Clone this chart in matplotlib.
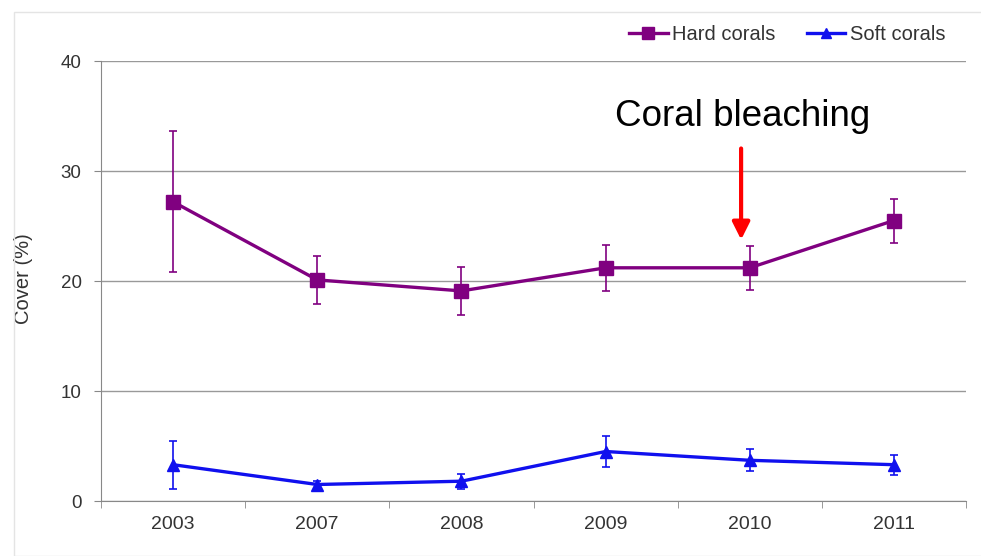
import matplotlib
matplotlib.use("Agg")
import matplotlib.pyplot as plt
from matplotlib.lines import Line2D
from matplotlib.patches import Rectangle
import numpy as np

years = ["2003", "2007", "2008", "2009", "2010", "2011"]
hard = [27.2, 20.1, 19.1, 21.2, 21.2, 25.5]
hard_err = [6.4, 2.2, 2.2, 2.1, 2.0, 2.0]
soft = [3.3, 1.5, 1.8, 4.5, 3.7, 3.3]
soft_err = [2.2, 0.3, 0.7, 1.4, 1.0, 0.9]

plt.rcParams['font.family'] = ['Liberation Sans', 'DejaVu Sans']

purple = "#800080"
blue = "#1010ee"

fig = plt.figure(figsize=(9.81, 5.56), dpi=100)
# faint frame of the original slide picture
fig.patches.append(Rectangle((14/981, 0), 1, 1 - 12/556, transform=fig.transFigure,
                             fill=False, edgecolor="#e4e4e4", lw=1))
ax = fig.add_axes([101/981, 55/556, 865/981, 440/556])

x = np.arange(len(years))
ax.errorbar(x, hard, yerr=hard_err, color=purple, marker="s", ms=10, lw=2.4,
            capsize=3, elinewidth=1.2, capthick=1.2, zorder=3)
ax.errorbar(x, soft, yerr=soft_err, color=blue, marker="^", ms=9, lw=2.4,
            capsize=3, elinewidth=1.2, capthick=1.2, zorder=3)

ax.set_xlim(-0.5, len(years) - 0.5)
ax.set_ylim(0, 40)
ax.set_yticks([0, 10, 20, 30, 40])
ax.set_xticks(x)
ax.set_xticklabels(years)
ax.set_xticks(np.arange(-0.5, len(years)), minor=True)
ax.tick_params(axis="x", which="major", length=0, pad=11, labelsize=14, colors="#333333")
ax.tick_params(axis="x", which="minor", length=5, direction="out", color="#888888")
ax.tick_params(axis="y", length=5, direction="out", color="#888888", labelsize=13.5,
               labelcolor="#333333", pad=9)
ax.grid(axis="y", color="#999999", lw=1)
ax.set_axisbelow(True)
for s in ["top", "right"]:
    ax.spines[s].set_visible(False)
for s in ["left", "bottom"]:
    ax.spines[s].set_color("#888888")
ax.set_ylabel("Cover (%)", fontsize=14.5, color="#333333")
ax.yaxis.set_label_coords(-(101 - 33) / 865, (501 - 279) / 440)

handles = [Line2D([], [], color=purple, marker="s", ms=8, lw=2.4),
           Line2D([], [], color=blue, marker="^", ms=7, lw=2.4)]
fig.legend(handles, ["Hard corals", "Soft corals"], loc="center right",
           bbox_to_anchor=(945/981, 1 - 35/556), ncol=2, frameon=False,
           fontsize=14.5, handlelength=1.9, columnspacing=1.6, handletextpad=0.2,
           borderpad=0, borderaxespad=0, labelcolor="#333333")

ax.text(3.95, 35.0, "Coral bleaching", fontsize=26.5, ha="center", va="center")
ax.annotate("", xy=(3.94, 23.5), xytext=(3.94, 32.3),
            arrowprops=dict(arrowstyle="-|>", color="red", lw=3, mutation_scale=26))

fig.savefig("out.png", dpi=100)
